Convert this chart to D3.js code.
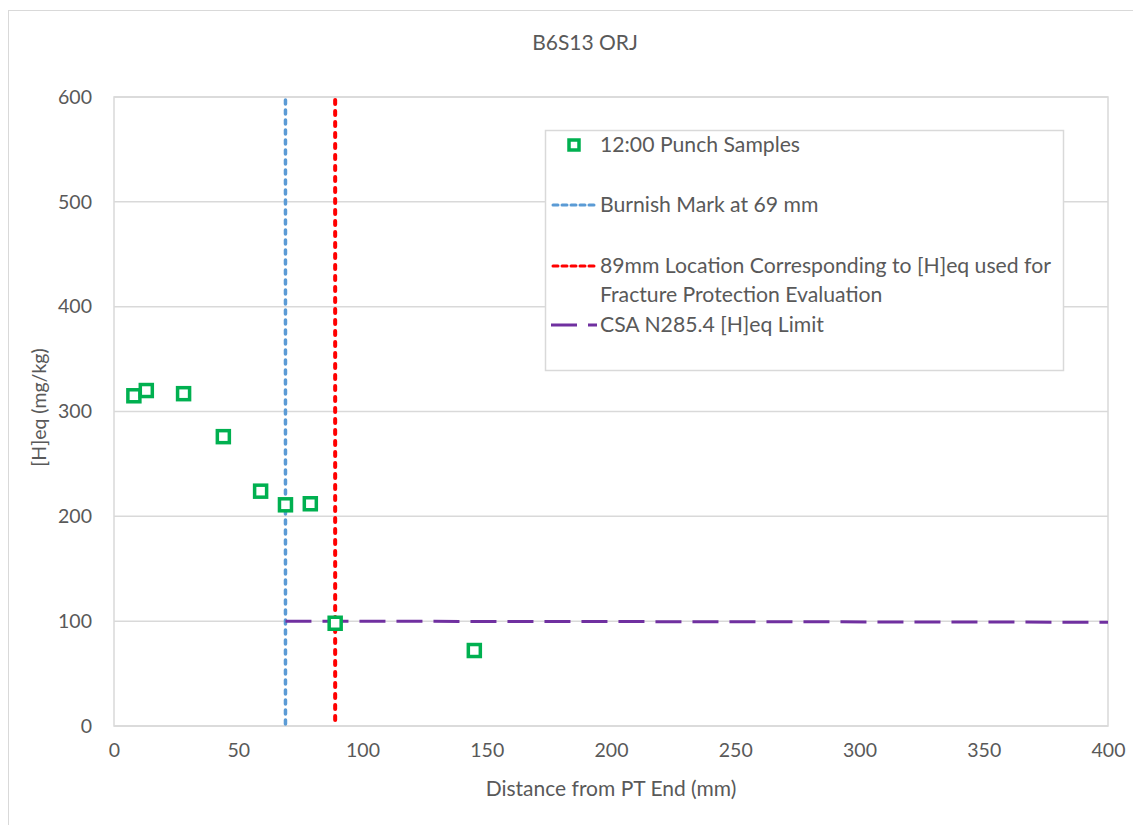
<!DOCTYPE html>
<html>
<head>
<meta charset="utf-8">
<script src="https://cdn.jsdelivr.net/npm/d3@7"></script>
<style>
  body { margin: 0; background: #fff; }
  text { font-family: Lato, "Open Sans", sans-serif; fill: #595959; }
</style>
</head>
<body>
<svg id="chart" width="1133" height="825"></svg>
<script>
// punch sample measurements
const sampleX = [8, 13, 28, 44, 59, 69, 79, 89, 145];
const sampleY = [315, 320, 317, 276, 224, 211, 212, 98, 72];

const burnishX = 69;
const locationX = 89;
const limitX = [69, 400];
const limitY = [100, 99];

const xTicks = [0, 50, 100, 150, 200, 250, 300, 350, 400];
const yTicks = [0, 100, 200, 300, 400, 500, 600];

const legendLabels = [
  ["12:00 Punch Samples"],
  ["Burnish Mark at 69 mm"],
  ["89mm Location Corresponding to [H]eq used for", "Fracture Protection Evaluation"],
  ["CSA N285.4 [H]eq Limit"]
];

const svg = d3.select("#chart");
const m = { left: 114, right: 1108, top: 97, bottom: 726 };

const x = d3.scaleLinear().domain([0, 400]).range([m.left, m.right]);
const y = d3.scaleLinear().domain([0, 600]).range([m.bottom, m.top]);

// outer chart frame
svg.append("rect")
  .attr("x", 8.5).attr("y", 10.5)
  .attr("width", 1140).attr("height", 830)
  .attr("fill", "none").attr("stroke", "#d9d9d9");

svg.append("text")
  .attr("x", 585).attr("y", 50)
  .attr("text-anchor", "middle")
  .style("font-size", "21px")
  .text("B6S13 ORJ");

// gridlines
svg.append("g")
  .selectAll("line")
  .data(yTicks)
  .enter()
  .append("line")
  .attr("x1", m.left).attr("x2", m.right)
  .attr("y1", d => y(d)).attr("y2", d => y(d))
  .attr("stroke", "#d9d9d9").attr("stroke-width", 1.5);

// plot area border
svg.append("rect")
  .attr("x", m.left).attr("y", m.top)
  .attr("width", m.right - m.left).attr("height", m.bottom - m.top)
  .attr("fill", "none").attr("stroke", "#d9d9d9").attr("stroke-width", 1.5);

// axes
const xAxis = svg.append("g")
  .attr("transform", `translate(0,${m.bottom})`)
  .call(d3.axisBottom(x).tickValues(xTicks).tickSize(0).tickPadding(17));
const yAxis = svg.append("g")
  .attr("transform", `translate(${m.left},0)`)
  .call(d3.axisLeft(y).tickValues(yTicks).tickSize(0).tickPadding(22));
[xAxis, yAxis].forEach(a => {
  a.select(".domain").remove();
  a.selectAll("text")
    .style("font-size", "19.5px")
    .style("font-family", "Lato, sans-serif")
    .attr("fill", "#595959");
});

svg.append("text")
  .attr("x", 611).attr("y", 796)
  .attr("text-anchor", "middle")
  .style("font-size", "21px")
  .text("Distance from PT End (mm)");

svg.append("text")
  .attr("transform", `translate(46,${y(300) - 4}) rotate(-90)`)
  .attr("text-anchor", "middle")
  .style("font-size", "19.5px")
  .text("[H]eq (mg/kg)");

// vertical reference lines
svg.append("line")
  .attr("x1", x(burnishX)).attr("x2", x(burnishX))
  .attr("y1", y(600) + 3).attr("y2", y(0) - 2)
  .attr("stroke", "#5b9bd5").attr("stroke-width", 3.5)
  .attr("stroke-dasharray", "4,6").attr("stroke-linecap", "round");

svg.append("line")
  .attr("x1", x(locationX)).attr("x2", x(locationX))
  .attr("y1", y(600) + 3).attr("y2", y(0) - 2)
  .attr("stroke", "#ff0000").attr("stroke-width", 4)
  .attr("stroke-dasharray", "4,7").attr("stroke-linecap", "round");

// limit line
svg.append("path")
  .datum(d3.zip(limitX, limitY))
  .attr("d", d3.line().x(d => x(d[0])).y(d => y(d[1])))
  .attr("fill", "none")
  .attr("stroke", "#7030a0").attr("stroke-width", 3)
  .attr("stroke-dasharray", "26,11");

// sample markers
svg.append("g")
  .selectAll("rect")
  .data(d3.zip(sampleX, sampleY))
  .enter()
  .append("rect")
  .attr("x", d => x(d[0]) - 6).attr("y", d => y(d[1]) - 6)
  .attr("width", 12).attr("height", 12)
  .attr("fill", "#fff")
  .attr("stroke", "#00b050").attr("stroke-width", 3.5);

// legend
const lg = svg.append("g");
lg.append("rect")
  .attr("x", 545.5).attr("y", 130.5)
  .attr("width", 518).attr("height", 240)
  .attr("fill", "#fff").attr("stroke", "#d9d9d9").attr("stroke-width", 1.5);

const rowY = [145, 205, 266, 325];
lg.append("rect")
  .attr("x", 569).attr("y", rowY[0] - 5)
  .attr("width", 10).attr("height", 10)
  .attr("fill", "#fff").attr("stroke", "#00b050").attr("stroke-width", 3.5);
lg.append("line")
  .attr("x1", 553).attr("x2", 597).attr("y1", rowY[1]).attr("y2", rowY[1])
  .attr("stroke", "#5b9bd5").attr("stroke-width", 3)
  .attr("stroke-dasharray", "5,4").attr("stroke-linecap", "round");
lg.append("line")
  .attr("x1", 553).attr("x2", 597).attr("y1", rowY[2]).attr("y2", rowY[2])
  .attr("stroke", "#ff0000").attr("stroke-width", 3)
  .attr("stroke-dasharray", "5,4").attr("stroke-linecap", "round");
lg.append("line")
  .attr("x1", 551).attr("x2", 597).attr("y1", rowY[3]).attr("y2", rowY[3])
  .attr("stroke", "#7030a0").attr("stroke-width", 3)
  .attr("stroke-dasharray", "26,11");

legendLabels.forEach((lines, i) => {
  lines.forEach((t, j) => {
    lg.append("text")
      .attr("x", 600).attr("y", rowY[i] + 7 + j * 29)
      .style("font-size", "21.2px")
      .text(t);
  });
});
</script>
</body>
</html>
